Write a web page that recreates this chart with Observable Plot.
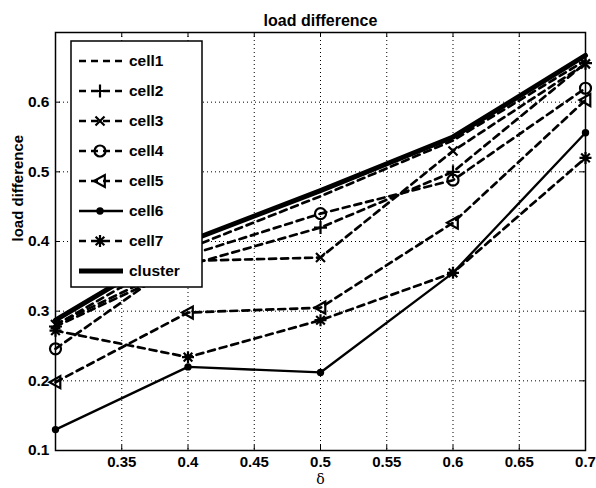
<!DOCTYPE html>
<html>
<head>
<meta charset="utf-8">
<script src="https://cdn.jsdelivr.net/npm/d3@7"></script>
<script src="https://cdn.jsdelivr.net/npm/@observablehq/plot@0.6"></script>
<style>
  html, body { margin: 0; padding: 0; background: #fff; }
  #wrap { position: relative; width: 596px; height: 488px; }
  #wrap svg { font-family: "Liberation Sans", Arial, sans-serif; }
  #legend { position: absolute; left: 0; top: 0; }
</style>
</head>
<body>
<div id="wrap"></div>
<script>
// ---- data ----
const deltas = [0.3, 0.4, 0.5, 0.6, 0.7];
const cell1 = [0.280, 0.390, 0.465, 0.545, 0.660];
const cell2 = [0.278, 0.366, 0.420, 0.500, 0.656];
const cell3 = [0.281, 0.372, 0.377, 0.530, 0.655];
const cell4 = [0.246, 0.380, 0.440, 0.488, 0.620];
const cell5 = [0.198, 0.298, 0.305, 0.427, 0.603];
const cell6 = [0.130, 0.220, 0.212, 0.355, 0.556];
const cell7 = [0.272, 0.234, 0.287, 0.355, 0.520];
const cluster = [0.287, 0.400, 0.473, 0.550, 0.667];
const seriesNames = ["cell1", "cell2", "cell3", "cell4", "cell5", "cell6", "cell7", "cluster"];
const xTicks = [0.3, 0.35, 0.4, 0.45, 0.5, 0.55, 0.6, 0.65, 0.7];
const xTickLabels = [0.35, 0.4, 0.45, 0.5, 0.55, 0.6, 0.65, 0.7];
const yTicks = [0.1, 0.2, 0.3, 0.4, 0.5, 0.6, 0.7];
const yTickLabels = [0.1, 0.2, 0.3, 0.4, 0.5, 0.6];
const titleText = "load difference";
const xLabel = "δ";
const yLabel = "load difference";

// ---- custom marker shapes ----
function rad(size) { return Math.sqrt(size / Math.PI); }
const symPlus = { draw(c, s) { const r = rad(s); c.moveTo(-r, 0); c.lineTo(r, 0); c.moveTo(0, -r); c.lineTo(0, r); } };
const symTimes = { draw(c, s) { const r = rad(s) * 0.75; c.moveTo(-r, -r); c.lineTo(r, r); c.moveTo(-r, r); c.lineTo(r, -r); } };
const symStar = { draw(c, s) { const r = rad(s); const q = r * 0.72;
  c.moveTo(-r, 0); c.lineTo(r, 0); c.moveTo(0, -r); c.lineTo(0, r);
  c.moveTo(-q, -q); c.lineTo(q, q); c.moveTo(-q, q); c.lineTo(q, -q); } };
const symCircle = { draw(c, s) { const r = rad(s); c.moveTo(r, 0); c.arc(0, 0, r, 0, 2 * Math.PI); } };
const symTriLeft = { draw(c, s) { const r = rad(s); c.moveTo(-r, 0); c.lineTo(r * 0.8, -r); c.lineTo(r * 0.8, r); c.closePath(); } };
const symDot = { draw(c, s) { const r = rad(s); c.moveTo(r, 0); c.arc(0, 0, r, 0, 2 * Math.PI); } };

const styles = {
  cell1:   { values: cell1,   dash: "7,5", width: 2.7, symbol: null },
  cell2:   { values: cell2,   dash: "7,5", width: 2.7, symbol: symPlus, r: 6.5, fill: "none" },
  cell3:   { values: cell3,   dash: "7,5", width: 2.7, symbol: symTimes, r: 6, fill: "none" },
  cell4:   { values: cell4,   dash: "7,5", width: 2.7, symbol: symCircle, r: 5.5, fill: "none" },
  cell5:   { values: cell5,   dash: "7,5", width: 2.7, symbol: symTriLeft, r: 6, fill: "none" },
  cell6:   { values: cell6,   dash: null,  width: 2.3, symbol: symDot, r: 2.6, fill: "black" },
  cell7:   { values: cell7,   dash: "7,5", width: 2.7, symbol: symStar, r: 6, fill: "none" },
  cluster: { values: cluster, dash: null,  width: 5, symbol: null }
};

const rows = seriesNames.flatMap(name => deltas.map((d, i) => ({ series: name, delta: d, value: styles[name].values[i] })));

const W = 596, H = 488;
const mL = 55, mR = 11, mT = 32, mB = 38;
const fh = H - mT - mB;
const fw = W - mL - mR;

const seriesMarks = seriesNames.flatMap(name => {
  const st = styles[name];
  const data = rows.filter(r => r.series === name);
  const ms = [Plot.line(data, { x: "delta", y: "value", stroke: "black", strokeWidth: st.width,
    strokeDasharray: st.dash || undefined, strokeLinejoin: "round" })];
  if (st.symbol) ms.push(Plot.dot(data, { x: "delta", y: "value", symbol: () => st.symbol, r: st.r,
    stroke: "black", strokeWidth: 2.2, fill: st.fill }));
  return ms;
});

const chart = Plot.plot({
  width: W, height: H,
  marginLeft: mL, marginRight: mR, marginTop: mT, marginBottom: mB,
  style: { fontFamily: "Liberation Sans, Arial, sans-serif", fontSize: "15px", fontWeight: "bold", background: "white", overflow: "visible" },
  x: { domain: [0.3, 0.7], label: null },
  y: { domain: [0.1, 0.7], label: null },
  marks: [
    Plot.ruleX(xTicks, { x: d => d, stroke: "black", strokeWidth: 1, strokeDasharray: "1,3" }),
    Plot.ruleY(yTicks, { y: d => d, stroke: "black", strokeWidth: 1, strokeDasharray: "1,3" }),
    Plot.ruleX(xTicks, { x: d => d, stroke: "black", insetTop: fh - 5 }),
    Plot.ruleX(xTicks, { x: d => d, stroke: "black", insetBottom: fh - 5 }),
    Plot.ruleY(yTicks, { y: d => d, stroke: "black", insetRight: fw - 5 }),
    Plot.ruleY(yTicks, { y: d => d, stroke: "black", insetLeft: fw - 5 }),
    ...seriesMarks,
    Plot.frame({ stroke: "black", strokeWidth: 1.5 }),
    Plot.axisX(xTickLabels, { tickSize: 0, tickPadding: 6, fontSize: 15, fontWeight: "bold", label: null, tickFormat: d => String(d) }),
    Plot.axisY(yTickLabels, { tickSize: 0, tickPadding: 6, fontSize: 15.5, fontWeight: "bold", label: null, tickFormat: d => String(d) }),
    Plot.text([titleText], { text: d => d, frameAnchor: "top", dy: -18, fontSize: 16, fontWeight: "bold" }),
    Plot.text([xLabel], { text: d => d, frameAnchor: "bottom", lineAnchor: "middle", dy: 29, fontSize: 14, fontWeight: "normal", fontFamily: "DejaVu Serif, serif" }),
    Plot.text([yLabel], { text: d => d, frameAnchor: "left", rotate: -90, dx: -37, fontSize: 15, fontWeight: "bold" })
  ]
});

const wrap = document.getElementById("wrap");
wrap.appendChild(chart);

// ---- legend overlay ----
const lg = d3.select(wrap).append("svg").attr("id", "legend").attr("width", W).attr("height", H)
  .style("font-family", "Liberation Sans, Arial, sans-serif");
const bx = 71, by = 41, bw = 131, rowH = 30;
const bh = rowH * seriesNames.length + 6;
lg.append("rect").attr("x", bx).attr("y", by).attr("width", bw).attr("height", bh)
  .attr("fill", "white").attr("stroke", "black").attr("stroke-width", 1.5);
seriesNames.forEach((name, i) => {
  const st = styles[name];
  const yy = by + 20 + i * rowH;
  lg.append("line").attr("x1", bx + 8).attr("x2", bx + 52).attr("y1", yy).attr("y2", yy)
    .attr("stroke", "black").attr("stroke-width", st.width)
    .attr("stroke-dasharray", st.dash || null);
  if (st.symbol) {
    lg.append("path").attr("transform", `translate(${bx + 29},${yy})`)
      .attr("d", d3.symbol(st.symbol, Math.PI * st.r * st.r)())
      .attr("fill", st.fill).attr("stroke", "black").attr("stroke-width", 2.2);
  }
  lg.append("text").attr("x", bx + 58).attr("y", yy).attr("dy", "0.35em")
    .attr("font-size", 15.5).attr("font-weight", "bold").text(name);
});
</script>
</body>
</html>
